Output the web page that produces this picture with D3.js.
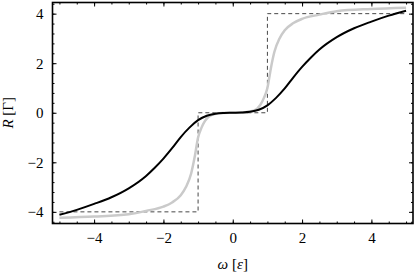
<!DOCTYPE html>
<html>
<head>
<meta charset="utf-8">
<script src="https://cdn.jsdelivr.net/npm/d3@7"></script>
<style>
  body { margin: 0; background: #fff; }
</style>
</head>
<body>
<div id="chart"></div>
<script>
// values
const blackW = [-5, -4.5, -4, -3.5, -3, -2.5, -2.25, -2, -1.75, -1.5, -1.25, -1, -0.75, -0.5, -0.25, 0,
                0.25, 0.5, 0.75, 1, 1.25, 1.5, 1.75, 2, 2.25, 2.5, 3, 3.5, 4, 4.5, 5];
const blackR = [-4.12, -3.92, -3.68, -3.41, -3.05, -2.55, -2.22, -1.85, -1.43, -0.98, -0.6, -0.3, -0.12, -0.04, -0.01, 0,
                0.01, 0.04, 0.12, 0.3, 0.6, 0.98, 1.43, 1.85, 2.22, 2.55, 3.05, 3.41, 3.68, 3.92, 4.12];

const grayW = [-5, -4, -3, -2.5, -2, -1.75, -1.5, -1.35, -1.2, -1.1, -1, -0.9, -0.8, -0.6, -0.3, 0,
               0.3, 0.6, 0.8, 0.9, 1, 1.1, 1.2, 1.35, 1.5, 1.75, 2, 2.5, 3, 4, 5];
const grayR = [-4.24, -4.19, -4.1, -3.96, -3.79, -3.62, -3.33, -3.0, -2.45, -1.8, -1.0, -0.6, -0.33, -0.08, -0.01, 0,
               0.01, 0.08, 0.33, 0.6, 1.0, 1.8, 2.45, 3.0, 3.33, 3.62, 3.79, 3.96, 4.1, 4.19, 4.24];

const stepW = [-5, -1, -1, 1, 1, 5];
const stepR = [-4, -4, 0, 0, 4, 4];

const xTicks = [-4, -2, 0, 2, 4];
const yTicks = [-4, -2, 0, 2, 4];

const FONT = "'Liberation Serif', 'Times New Roman', Times, serif";

const W = 415, H = 276;
const margin = {top: 2.5, right: 2, bottom: 52.5, left: 52.5};
const width = W - margin.left - margin.right;
const height = H - margin.top - margin.bottom;

const x = d3.scaleLinear().domain([-5.2, 5.2]).range([0, width]);
const y = d3.scaleLinear().domain([-4.47, 4.45]).range([height, 0]);

const svg = d3.select("#chart").append("svg")
  .attr("width", W).attr("height", H)
  .attr("font-family", FONT)
  .append("g")
  .attr("transform", `translate(${margin.left}, ${margin.top})`);

svg.append("clipPath").attr("id", "clip")
  .append("rect").attr("width", width).attr("height", height);

const line = d3.line().x(d => x(d[0])).y(d => y(d[1]));

const plot = svg.append("g").attr("clip-path", "url(#clip)");

plot.append("path")
  .datum(stepW.map((w, i) => [w, stepR[i]]))
  .attr("d", line)
  .attr("fill", "none")
  .attr("stroke", "#333")
  .attr("stroke-width", 0.9)
  .attr("stroke-dasharray", "4,3");

plot.append("path")
  .datum(grayW.map((w, i) => [w, grayR[i]]))
  .attr("d", line.curve(d3.curveMonotoneX))
  .attr("fill", "none")
  .attr("stroke", "#cacaca")
  .attr("stroke-width", 2.5);

plot.append("path")
  .datum(blackW.map((w, i) => [w, blackR[i]]))
  .attr("d", line.curve(d3.curveMonotoneX))
  .attr("fill", "none")
  .attr("stroke", "#000")
  .attr("stroke-width", 2);

// minor + major ticks on all four sides, pointing inward
const xMinor = d3.range(-5, 5.01, 0.5);
const yMinor = d3.range(-4.4, 4.41, 0.4).map(v => +v.toFixed(1));

function ticks(g, axis) {
  g.call(axis);
  g.attr("font-family", null).attr("font-size", null);
  g.select(".domain").remove();
  g.selectAll(".tick line").attr("stroke", "#000").attr("stroke-width", 1);
}

svg.append("g").attr("transform", `translate(0,${height})`)
  .call(g => ticks(g, d3.axisBottom(x).tickValues(xMinor).tickSize(-2).tickFormat("")));
svg.append("g")
  .call(g => ticks(g, d3.axisTop(x).tickValues(xMinor).tickSize(-2).tickFormat("")));
svg.append("g")
  .call(g => ticks(g, d3.axisLeft(y).tickValues(yMinor).tickSize(-2).tickFormat("")));
svg.append("g").attr("transform", `translate(${width},0)`)
  .call(g => ticks(g, d3.axisRight(y).tickValues(yMinor).tickSize(-2).tickFormat("")));

const xAxis = svg.append("g").attr("class", "x-axis")
  .attr("transform", `translate(0,${height})`);
ticks(xAxis, d3.axisBottom(x).tickValues(xTicks).tickSize(-4).tickPadding(9));
svg.append("g")
  .call(g => ticks(g, d3.axisTop(x).tickValues(xTicks).tickSize(-4).tickFormat("")));

const yAxis = svg.append("g").attr("class", "y-axis");
ticks(yAxis, d3.axisLeft(y).tickValues(yTicks).tickSize(-4).tickPadding(9));
svg.append("g").attr("transform", `translate(${width},0)`)
  .call(g => ticks(g, d3.axisRight(y).tickValues(yTicks).tickSize(-4).tickFormat("")));

svg.selectAll(".x-axis text, .y-axis text")
  .attr("font-family", FONT)
  .attr("font-size", 15)
  .attr("fill", "#000");

// frame
svg.append("rect")
  .attr("width", width).attr("height", height)
  .attr("fill", "none")
  .attr("stroke", "#000")
  .attr("stroke-width", 1.6);

// axis labels
const xl = svg.append("text")
  .attr("x", x(0)).attr("y", height + 45)
  .attr("text-anchor", "middle")
  .attr("font-size", 15);
xl.append("tspan").attr("font-style", "italic").text("ω");
xl.append("tspan").text(" [");
xl.append("tspan").attr("font-style", "italic").text("ε");
xl.append("tspan").text("]");

const yl = svg.append("text")
  .attr("transform", `translate(${-40},${y(0)}) rotate(-90)`)
  .attr("text-anchor", "middle")
  .attr("font-size", 15);
yl.append("tspan").attr("font-style", "italic").text("R");
yl.append("tspan").text(" [Γ]");
</script>
</body>
</html>
